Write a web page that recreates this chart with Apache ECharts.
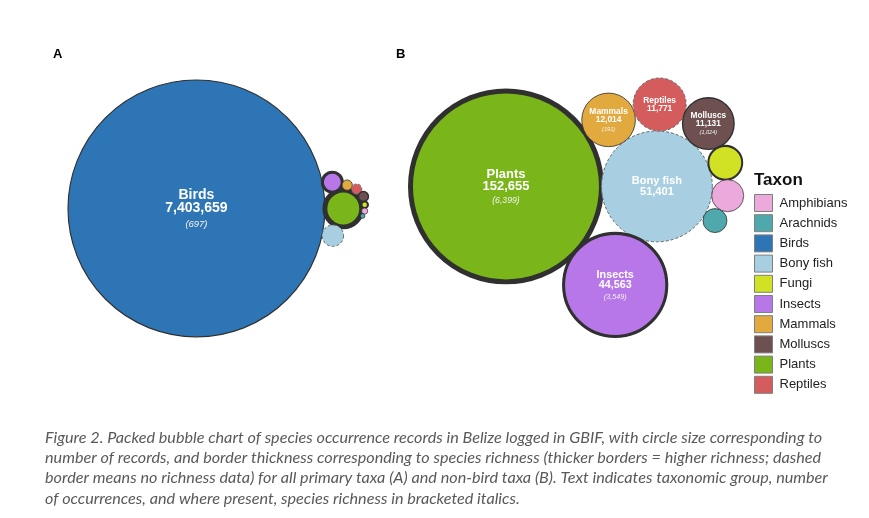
<!DOCTYPE html>
<html>
<head>
<meta charset="utf-8">
<script src="https://cdn.jsdelivr.net/npm/echarts@6.0.0/dist/echarts.min.js"></script>
<style>
  html, body { margin: 0; padding: 0; background: #fff; }
  #chart { width: 869px; height: 518px; }
</style>
</head>
<body>
<div id="chart"></div>
<script>
// Taxa, in legend order
const taxa = ['Amphibians', 'Arachnids', 'Birds', 'Bony fish', 'Fungi', 'Insects', 'Mammals', 'Molluscs', 'Plants', 'Reptiles'];
// GBIF occurrence records (unlabelled ones estimated from circle size)
const records = [4300, 2400, 7403659, 51401, 4800, 44563, 12014, 11131, 152655, 11771];
// Species richness, null = no richness data (dashed border)
const richness = [40, 150, 697, null, 2000, 3549, 191, 1024, 6399, null];
// Taxa drawn in each panel
const panelA = taxa.slice();
const panelB = taxa.filter(t => t !== 'Birds');

const captionLines = [
  'Figure 2. Packed bubble chart of species occurrence records in Belize logged in GBIF, with circle size corresponding to',
  'number of records, and border thickness corresponding to species richness (thicker borders = higher richness; dashed',
  'border means no richness data) for all primary taxa (A) and non-bird taxa (B). Text indicates taxonomic group, number',
  'of occurrences, and where present, species richness in bracketed italics.'
];

const taxonColors = ['#EBA9DC', '#4FA8AC', '#2E75B6', '#A8CFE1', '#D1E224', '#B777E8', '#E2A93E', '#6F5050', '#7AB51A', '#D55C5C'];
const FONT = 'Liberation Sans';

// panel placement: pixels per sqrt(record) unit, and top-left of the packed block
const panels = [
  { names: panelA, k: 0.0472, left: 68, top: 80 },
  { names: panelB, k: 0.2444, left: 410.5, top: 78 }
];

// ---- progressive front-chain circle packing ----
// each new circle goes tangent to the chain circle closest to the origin
// and the one before it on the chain
function place(b, a, c) {
  const dx = b.x - a.x, dy = b.y - a.y, d2 = dx * dx + dy * dy;
  if (d2) {
    let a2 = a.r + c.r, b2 = b.r + c.r, x, y;
    a2 *= a2; b2 *= b2;
    if (a2 > b2) {
      x = (d2 + b2 - a2) / (2 * d2);
      y = Math.sqrt(Math.max(0, b2 / d2 - x * x));
      c.x = b.x - x * dx - y * dy;
      c.y = b.y - x * dy + y * dx;
    } else {
      x = (d2 + a2 - b2) / (2 * d2);
      y = Math.sqrt(Math.max(0, a2 / d2 - x * x));
      c.x = a.x + x * dx - y * dy;
      c.y = a.y + x * dy + y * dx;
    }
  } else {
    c.x = a.x + c.r;
    c.y = a.y;
  }
}

function intersects(a, b) {
  const dr = a.r + b.r - 1e-6, dx = b.x - a.x, dy = b.y - a.y;
  return dr > 0 && dr * dr > dx * dx + dy * dy;
}

function closest(start) {
  let best = start, bd = start._.x * start._.x + start._.y * start._.y, n = start.next;
  while (n !== start) {
    const d = n._.x * n._.x + n._.y * n._.y;
    if (d < bd) { best = n; bd = d; }
    n = n.next;
  }
  return best;
}

function packCircles(circles) {
  const n = circles.length;
  let a = circles[0], b, c;
  a.x = 0; a.y = 0;
  if (n < 2) return;
  // first two circles touch at the origin
  b = circles[1]; a.x = -a.r; b.x = b.r; b.y = 0;
  if (n < 3) return;
  c = circles[2];
  place(b, a, c);
  a = { _: a }; b = { _: b }; c = { _: c };
  a.next = c.previous = b;
  b.next = a.previous = c;
  c.next = b.previous = a;
  b = closest(a); a = b.previous;
  pack: for (let i = 3; i < n; ++i) {
    place(a._, b._, circles[i]);
    c = { _: circles[i] };
    let j = b.next, k = a.previous, sj = b._.r, sk = a._.r;
    do {
      if (sj <= sk) {
        if (intersects(j._, c._)) { b = j; a.next = b; b.previous = a; --i; continue pack; }
        sj += j._.r; j = j.next;
      } else {
        if (intersects(k._, c._)) { a = k; a.next = b; b.previous = a; --i; continue pack; }
        sk += k._.r; k = k.previous;
      }
    } while (j !== k.next);
    c.previous = a; c.next = b; a.next = b.previous = c;
    b = closest(c); a = b.previous;
  }
}

function fmt(n) {
  return String(n).replace(/\B(?=(\d{3})+(?!\d))/g, ',');
}

function renderBubble(params, api) {
  const i = api.value(3);
  const p = api.coord([api.value(0), api.value(1)]);
  const r = api.size([api.value(2), 0])[0];
  const rich = richness[i];
  const children = [{
    type: 'circle',
    shape: { cx: p[0], cy: p[1], r: r },
    style: {
      fill: taxonColors[i],
      stroke: rich == null ? '#666' : '#303030',
      lineWidth: rich == null ? 1 : 0.7 + rich / 1500,
      lineDash: rich == null ? [3, 2] : null
    }
  }];
  if (r > 20) {
    const fs = -3.28 + 3.57 * Math.log(r);
    let text = '{n|' + taxa[i] + '}\n{v|' + fmt(records[i]) + '}';
    if (rich != null) text += '\n{s|(' + fmt(rich) + ')}';
    children.push({
      type: 'text',
      style: {
        // keep the record count on the circle centre when a richness line is present
        x: p[0], y: p[1] + (rich != null ? 0.175 * fs : 0),
        text: text,
        align: 'center', verticalAlign: 'middle',
        fill: '#fff',
        rich: {
          n: { fontFamily: FONT, fontWeight: 'bold', fontSize: fs, lineHeight: fs * 0.95, fill: '#fff' },
          v: { fontFamily: FONT, fontWeight: 'bold', fontSize: fs, lineHeight: fs * 0.95, fill: '#fff' },
          s: { fontFamily: FONT, fontStyle: 'italic', fontSize: fs * 0.67, lineHeight: fs * 1.3, fill: '#f2f2f2' }
        }
      }
    });
  }
  return { type: 'group', children: children };
}

const grids = [], xAxes = [], yAxes = [], series = [];
panels.forEach((panel, pi) => {
  const idx = panel.names.map(n => taxa.indexOf(n))
    .sort((a, b) => records[b] - records[a]);
  const circles = idx.map(i => ({ i: i, r: Math.sqrt(records[i]), x: 0, y: 0 }));
  packCircles(circles);
  const minX = Math.min(...circles.map(c => c.x - c.r));
  const maxX = Math.max(...circles.map(c => c.x + c.r));
  const minY = Math.min(...circles.map(c => c.y - c.r));
  const maxY = Math.max(...circles.map(c => c.y + c.r));
  grids.push({ left: panel.left, top: panel.top, width: panel.k * (maxX - minX), height: panel.k * (maxY - minY) });
  xAxes.push({ type: 'value', gridIndex: pi, min: minX, max: maxX, show: false });
  yAxes.push({ type: 'value', gridIndex: pi, min: minY, max: maxY, inverse: true, show: false });
  circles.forEach(c => {
    series.push({
      type: 'custom',
      name: taxa[c.i],
      xAxisIndex: pi, yAxisIndex: pi,
      clip: false,
      itemStyle: { color: taxonColors[c.i] },
      renderItem: renderBubble,
      data: [[c.x, c.y, c.r, c.i]]
    });
  });
});

// fit caption font size to the width of the first line
const ctx = document.createElement('canvas').getContext('2d');
ctx.font = 'italic 100px Lato';
const captionSize = 100 * 778 / ctx.measureText(captionLines[0]).width;

const chart = echarts.init(document.getElementById('chart'));
chart.setOption({
  animation: false,
  backgroundColor: '#fff',
  title: [
    { text: 'A', left: 53, top: 48, padding: 0, textStyle: { fontFamily: FONT, fontWeight: 'bold', fontSize: 13, color: '#000' } },
    { text: 'B', left: 396, top: 48, padding: 0, textStyle: { fontFamily: FONT, fontWeight: 'bold', fontSize: 13, color: '#000' } },
    { text: 'Taxon', left: 754, top: 172, padding: 0, textStyle: { fontFamily: FONT, fontWeight: 'bold', fontSize: 17, color: '#111' } },
    {
      text: captionLines.join('\n'), left: 45, top: 427.5, padding: 0,
      textStyle: { fontFamily: 'Lato', fontStyle: 'italic', fontWeight: 'normal', fontSize: captionSize, lineHeight: 20.3, color: '#595959' }
    }
  ],
  legend: {
    data: taxa,
    orient: 'vertical',
    left: 754, top: 194,
    padding: 0,
    icon: 'rect',
    itemWidth: 18, itemHeight: 17, itemGap: 2.2,
    selectedMode: false,
    itemStyle: { borderColor: '#7f7f7f', borderWidth: 1 },
    textStyle: { fontFamily: FONT, fontSize: 13, color: '#222', padding: [0, 0, 0, 2] }
  },
  grid: grids,
  xAxis: xAxes,
  yAxis: yAxes,
  series: series
});
</script>
</body>
</html>
